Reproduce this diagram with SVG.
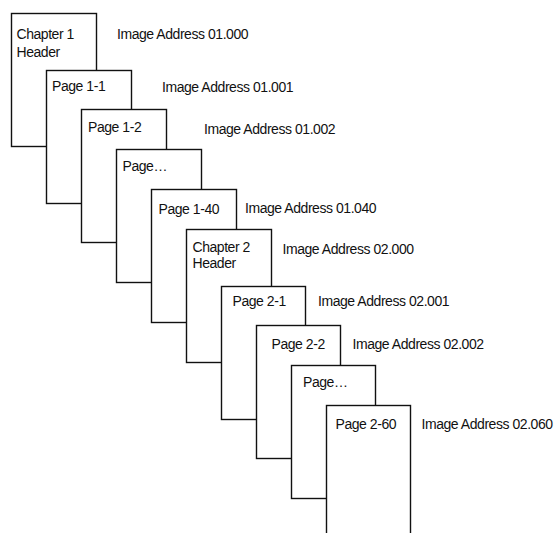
<svg xmlns="http://www.w3.org/2000/svg" width="558" height="533" viewBox="0 0 558 533">
<style>
.pg{fill:#fff;stroke:#111;stroke-width:1.4}
text{font-family:"Liberation Sans",Arial,sans-serif;font-size:14px;letter-spacing:-0.45px;fill:#111}
</style>
<rect width="558" height="533" fill="#fff"/>
<g id="ch1">
<rect class="pg" x="11.5" y="13.5" width="85" height="133"/>
<text x="16.5" y="38.5">Chapter 1</text>
<text x="16.5" y="56.5">Header</text>
<text x="117" y="38.5">Image Address 01.000</text>
</g>
<g id="p1-1">
<rect class="pg" x="46.5" y="70.5" width="85" height="133"/>
<text x="52" y="90.5">Page 1-1</text>
<text x="162" y="91.5">Image Address 01.001</text>
</g>
<g id="p1-2">
<rect class="pg" x="81.5" y="109.5" width="85" height="133"/>
<text x="88" y="131.5">Page 1-2</text>
<text x="204" y="133.5">Image Address 01.002</text>
</g>
<g id="p1-x">
<rect class="pg" x="116.5" y="149.5" width="85" height="133"/>
<text x="122.5" y="171">Page…</text>
</g>
<g id="p1-40">
<rect class="pg" x="151.5" y="189.5" width="85" height="133"/>
<text x="158.5" y="214">Page 1-40</text>
<text x="245" y="212.5">Image Address 01.040</text>
</g>
<g id="ch2">
<rect class="pg" x="186.5" y="229.5" width="85" height="133"/>
<text x="192.5" y="251.5">Chapter 2</text>
<text x="192.5" y="267.5">Header</text>
<text x="282.5" y="254">Image Address 02.000</text>
</g>
<g id="p2-1">
<rect class="pg" x="221.5" y="286.5" width="84" height="133"/>
<text x="232.5" y="306">Page 2-1</text>
<text x="318" y="306">Image Address 02.001</text>
</g>
<g id="p2-2">
<rect class="pg" x="256.5" y="325.5" width="84" height="133"/>
<text x="271.5" y="349">Page 2-2</text>
<text x="352.5" y="349">Image Address 02.002</text>
</g>
<g id="p2-x">
<rect class="pg" x="291.5" y="365.5" width="84" height="133"/>
<text x="303" y="387">Page…</text>
</g>
<g id="p2-60">
<rect class="pg" x="326.5" y="405.5" width="84" height="133"/>
<text x="335.5" y="429">Page 2-60</text>
<text x="421.5" y="429">Image Address 02.060</text>
</g>
<g id="connectors"/>
</svg>
